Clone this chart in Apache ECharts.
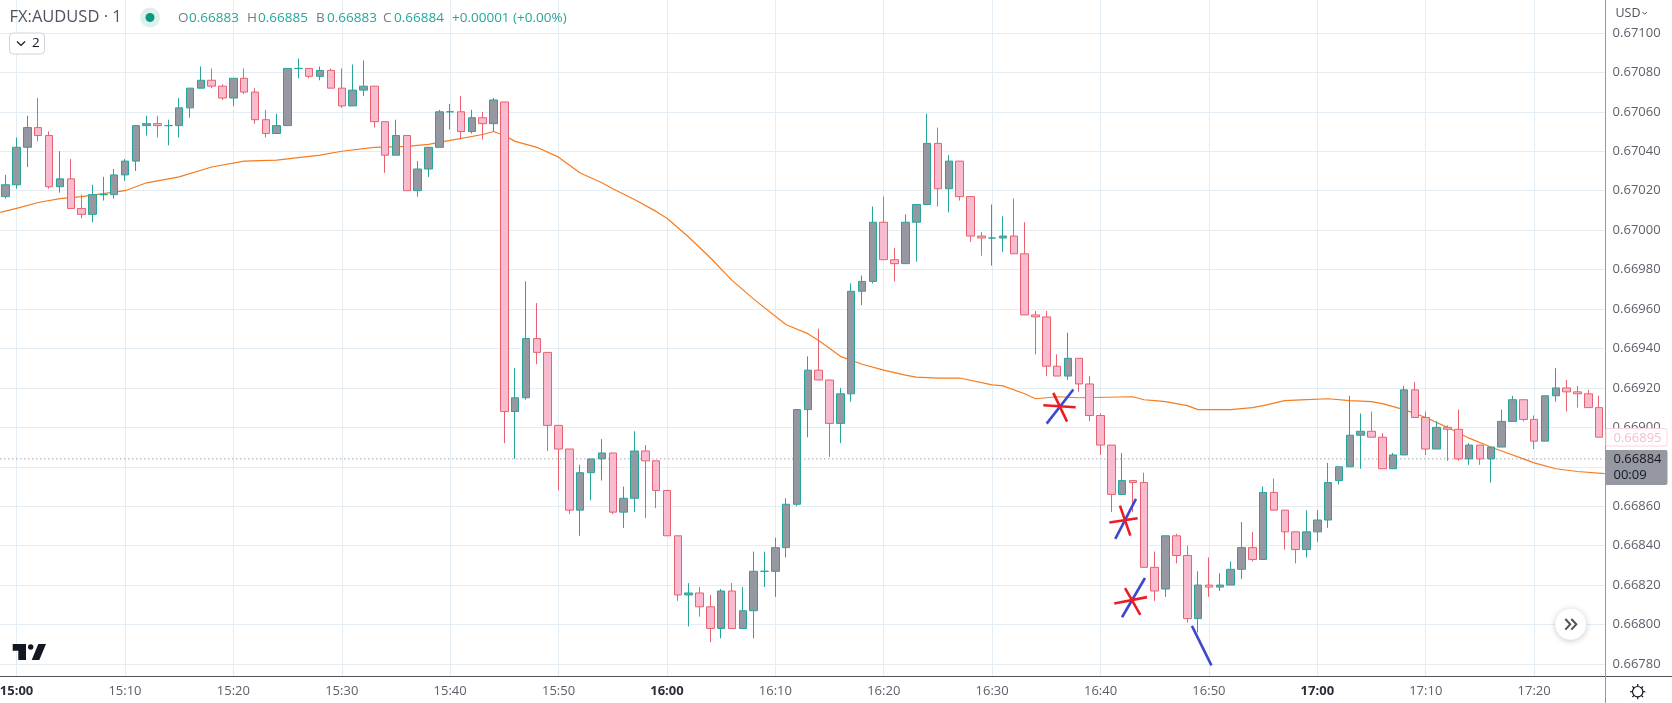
<!DOCTYPE html>
<html><head><meta charset="utf-8">
<style>html,body{margin:0;padding:0;background:#fff}#c{width:1672px;height:703px}</style>
<script src="https://cdn.jsdelivr.net/npm/echarts@6/dist/echarts.min.js"></script>
</head><body><div id="c"></div>
<script>
const categories = [
'14:59','15:00','15:01','15:02','15:03','15:04','15:05','15:06','15:07','15:08','15:09',
'15:10','15:11','15:12','15:13','15:14','15:15','15:16','15:17','15:18','15:19',
'15:20','15:21','15:22','15:23','15:24','15:25','15:26','15:27','15:28','15:29',
'15:30','15:31','15:32','15:33','15:34','15:35','15:36','15:37','15:38','15:39',
'15:40','15:41','15:42','15:43','15:44','15:45','15:46','15:47','15:48','15:49',
'15:50','15:51','15:52','15:53','15:54','15:55','15:56','15:57','15:58','15:59',
'16:00','16:01','16:02','16:03','16:04','16:05','16:06','16:07','16:08','16:09',
'16:10','16:11','16:12','16:13','16:14','16:15','16:16','16:17','16:18','16:19',
'16:20','16:21','16:22','16:23','16:24','16:25','16:26','16:27','16:28','16:29',
'16:30','16:31','16:32','16:33','16:34','16:35','16:36','16:37','16:38','16:39',
'16:40','16:41','16:42','16:43','16:44','16:45','16:46','16:47','16:48','16:49',
'16:50','16:51','16:52','16:53','16:54','16:55','16:56','16:57','16:58','16:59',
'17:00','17:01','17:02','17:03','17:04','17:05','17:06','17:07','17:08','17:09',
'17:10','17:11','17:12','17:13','17:14','17:15','17:16','17:17','17:18','17:19',
'17:20','17:21','17:22','17:23','17:24','17:25','17:26'];

const opens = [
0.67017,0.67023,0.67042,0.67052,0.67048,0.67022,0.67026,0.67011,0.67008,0.67018,
0.67018,0.67028,0.67035,0.67053,0.67054,0.67053,0.67053,0.67062,0.67072,0.67076,
0.67073,0.67067,0.67077,0.67070,0.67056,0.67049,0.67053,0.67082,0.67082,0.67078,
0.67081,0.67072,0.67063,0.67071,0.67073,0.67055,0.67038,0.67048,0.67020,0.67031,
0.67042,0.67060,0.67060,0.67050,0.67057,0.67054,0.67065,0.66908,0.66915,0.66945,
0.66938,0.66901,0.66889,0.66858,0.66877,0.66884,0.66887,0.66857,0.66864,0.66888,
0.66883,0.66868,0.66845,0.66815,0.66816,0.66809,0.66798,0.66817,0.66798,0.66807,
0.66827,0.66827,0.66839,0.66861,0.66909,0.66929,0.66924,0.66902,0.66917,0.66969,
0.66974,0.67004,0.66985,0.66983,0.67004,0.67013,0.67044,0.67021,0.67035,0.67017,
0.66997,0.66996,0.66996,0.66997,0.66988,0.66957,0.66956,0.66931,0.66926,0.66935,
0.66922,0.66906,0.66891,0.66866,0.66873,0.66872,0.66829,0.66818,0.66845,0.66835,
0.66803,0.66820,0.66819,0.66820,0.66828,0.66839,0.66833,0.66867,0.66858,0.66847,
0.66838,0.66847,0.66853,0.66873,0.66880,0.66896,0.66898,0.66895,0.66879,0.66886,
0.66919,0.66905,0.66889,0.66900,0.66899,0.66884,0.66891,0.66884,0.66890,0.66903,
0.66914,0.66904,0.66893,0.66916,0.66920,0.66918,0.66917,0.66910];

const closes = [
0.67023,0.67042,0.67052,0.67048,0.67022,0.67026,0.67011,0.67008,0.67018,0.67018,
0.67028,0.67035,0.67053,0.67054,0.67053,0.67053,0.67062,0.67072,0.67076,0.67073,
0.67067,0.67077,0.67070,0.67056,0.67049,0.67053,0.67082,0.67082,0.67078,0.67081,
0.67072,0.67063,0.67071,0.67073,0.67055,0.67038,0.67048,0.67020,0.67031,0.67042,
0.67060,0.67060,0.67050,0.67057,0.67054,0.67066,0.66908,0.66915,0.66945,0.66938,
0.66901,0.66889,0.66858,0.66877,0.66884,0.66887,0.66857,0.66864,0.66888,0.66883,
0.66868,0.66845,0.66815,0.66816,0.66809,0.66798,0.66817,0.66798,0.66807,0.66827,
0.66827,0.66839,0.66861,0.66909,0.66929,0.66924,0.66902,0.66917,0.66969,0.66974,
0.67004,0.66985,0.66983,0.67004,0.67013,0.67044,0.67021,0.67035,0.67017,0.66997,
0.66996,0.66996,0.66997,0.66988,0.66957,0.66956,0.66931,0.66926,0.66935,0.66922,
0.66906,0.66891,0.66866,0.66873,0.66872,0.66829,0.66817,0.66845,0.66835,0.66803,
0.66820,0.66819,0.66820,0.66828,0.66839,0.66833,0.66867,0.66858,0.66847,0.66838,
0.66847,0.66853,0.66872,0.66880,0.66896,0.66898,0.66895,0.66879,0.66886,0.66919,
0.66905,0.66889,0.66900,0.66899,0.66884,0.66891,0.66884,0.66890,0.66903,0.66914,
0.66904,0.66893,0.66916,0.66920,0.66918,0.66917,0.66910,0.66895];

const highs = [
0.67028,0.67047,0.67058,0.67067,0.67050,0.67040,0.67036,0.67018,0.67023,0.67027,
0.67031,0.67036,0.67053,0.67058,0.67058,0.67056,0.67067,0.67072,0.67083,0.67082,
0.67074,0.67077,0.67082,0.67072,0.67061,0.67059,0.67082,0.67087,0.67082,0.67083,
0.67082,0.67082,0.67084,0.67086,0.67073,0.67055,0.67056,0.67048,0.67035,0.67042,
0.67061,0.67064,0.67068,0.67061,0.67060,0.67067,0.67065,0.66930,0.66974,0.66963,
0.66938,0.66901,0.66889,0.66881,0.66884,0.66894,0.66887,0.66870,0.66898,0.66891,
0.66883,0.66868,0.66845,0.66821,0.66819,0.66815,0.66818,0.66821,0.66819,0.66837,
0.66837,0.66844,0.66864,0.66909,0.66936,0.66950,0.66924,0.66920,0.66973,0.66977,
0.67012,0.67017,0.66991,0.67008,0.67013,0.67059,0.67052,0.67038,0.67035,0.67017,
0.66999,0.67013,0.67007,0.67016,0.67004,0.66959,0.66959,0.66937,0.66948,0.66935,
0.66926,0.66907,0.66891,0.66887,0.66873,0.66877,0.66837,0.66845,0.66846,0.66840,
0.66827,0.66834,0.66826,0.66832,0.66852,0.66847,0.66870,0.66874,0.66858,0.66847,
0.66858,0.66858,0.66882,0.66880,0.66916,0.66907,0.66908,0.66897,0.66887,0.66921,
0.66923,0.66908,0.66903,0.66901,0.66909,0.66892,0.66891,0.66890,0.66909,0.66916,
0.66914,0.66906,0.66916,0.66930,0.66924,0.66921,0.66919,0.66916];

const lows = [
0.67016,0.67021,0.67032,0.67045,0.67021,0.67019,0.67011,0.67006,0.67004,0.67015,
0.67016,0.67025,0.67030,0.67048,0.67047,0.67043,0.67047,0.67057,0.67072,0.67072,
0.67066,0.67063,0.67069,0.67054,0.67047,0.67049,0.67053,0.67077,0.67077,0.67076,
0.67072,0.67062,0.67063,0.67068,0.67052,0.67029,0.67038,0.67020,0.67017,0.67027,
0.67042,0.67051,0.67046,0.67049,0.67046,0.67050,0.66892,0.66884,0.66914,0.66932,
0.66888,0.66868,0.66856,0.66845,0.66863,0.66873,0.66856,0.66849,0.66857,0.66854,
0.66859,0.66845,0.66812,0.66799,0.66804,0.66791,0.66793,0.66798,0.66798,0.66793,
0.66819,0.66814,0.66834,0.66860,0.66895,0.66924,0.66885,0.66892,0.66913,0.66962,
0.66973,0.66985,0.66974,0.66983,0.66984,0.67013,0.67012,0.67009,0.67015,0.66994,
0.66987,0.66982,0.66989,0.66988,0.66957,0.66937,0.66926,0.66926,0.66924,0.66918,
0.66903,0.66886,0.66857,0.66866,0.66857,0.66829,0.66812,0.66814,0.66831,0.66801,
0.66796,0.66814,0.66817,0.66820,0.66823,0.66832,0.66833,0.66858,0.66838,0.66831,
0.66834,0.66842,0.66849,0.66871,0.66880,0.66879,0.66895,0.66879,0.66879,0.66886,
0.66905,0.66886,0.66889,0.66883,0.66883,0.66881,0.66881,0.66872,0.66890,0.66903,
0.66903,0.66889,0.66893,0.66913,0.66908,0.66910,0.66910,0.66895];

// moving-average line, read at its visible vertices: [bar position, price]
const maPoints = [
[-0.5,0.67009],[1,0.67011],[3,0.67014],[5,0.67016],[7,0.67017],[9,0.670185],[11,0.67020],[13,0.67024],
[16,0.67027],[19,0.67032],[22,0.67035],[25,0.670355],[29,0.67038],[31,0.67040],[34,0.67042],[37,0.670425],
[39,0.670435],[41,0.670455],[44,0.670485],[45,0.67050],[46,0.67048],[47,0.67045],[49,0.67042],[51,0.67037],
[53,0.67029],[55,0.67024],[56,0.67021],[58,0.670155],[60,0.670095],[61,0.67006],[63,0.669965],[65,0.66986],
[67,0.669745],[69,0.66965],[72,0.66952],[74,0.669475],[75,0.66944],[77,0.66936],[79,0.66932],[81,0.66929],
[83,0.669265],[84,0.669255],[86,0.66925],[87,0.66925],[88,0.66925],[91,0.669215],[92,0.66921],[94,0.66917],
[95,0.669145],[97,0.669155],[99,0.66915],[104,0.669155],[105,0.66914],[106,0.669135],[107,0.66913],[109,0.66911],
[110,0.66909],[112,0.66909],[113,0.66909],[115,0.66910],[116,0.66911],[118,0.669135],[120,0.66914],[122,0.669145],
[124,0.669135],[126,0.66913],[127,0.66912],[129,0.66909],[131,0.66905],[133,0.66900],[135,0.668945],[137,0.66890],
[138,0.66888],[140,0.66884],[141,0.66882],[143,0.66879],[145,0.668776],[147.5,0.668765]];

// hand-drawn annotations: [bar, price, bar, price]
const blueStrokes = [
[96.03,0.669019,98.49,0.669192],
[102.36,0.668434,104.27,0.668637],
[102.98,0.668037,105.10,0.668236],
[109.43,0.667993,111.23,0.667793]];
const redStrokes = [
[95.72,0.669112,98.70,0.669102],[96.64,0.669175,97.91,0.669029],
[101.81,0.668517,104.42,0.668539],[102.79,0.668603,103.75,0.668451],
[102.27,0.668107,105.29,0.668139],[103.26,0.668185,104.67,0.668049]];

const lastPrice = 0.66884;
const yTicks = [0.671,0.6708,0.6706,0.6704,0.6702,0.67,0.6698,0.6696,0.6694,0.6692,0.669,0.6688,0.6686,0.6684,0.6682,0.668,0.6678];
const ohlcLabels = [['O','0.66883',178],['H','0.66885',247],['B','0.66883',316],['C','0.66884',383]];

const FONT = '"Open Sans", Roboto, sans-serif';
const GRIDC = '#e4edf3';
const TEAL = '#26a69a', RED = '#e8636f';

const chart = echarts.init(document.getElementById('c'), null, {renderer:'canvas'});
const candleData = categories.map((_, i) => [opens[i], closes[i], lows[i], highs[i]]);
const strokeSeries = (list, color) => list.map(s => ({
  type:'line', xAxisIndex:1, yAxisIndex:0, data:[[s[0],s[1]],[s[2],s[3]]],
  symbol:'none', z:6, silent:true, lineStyle:{color, width:2.6}
}));

const logo = [
 {type:'polygon', shape:{points:[[12.7,644],[26,644],[26,660],[18.3,660],[18.3,650.7],[12.7,650.7]]}, style:{fill:'#131722'}},
 {type:'circle', shape:{cx:30.7,cy:647,r:2.7}, style:{fill:'#131722'}},
 {type:'polygon', shape:{points:[[38.3,644],[46,644],[39.3,660],[31.7,660]]}, style:{fill:'#131722'}}
];
const gearLines = [0,45,90,135].map(a => {
  const r = a*Math.PI/180, c = Math.cos(r)*7.6, s = Math.sin(r)*7.6;
  return {type:'line', shape:{x1:1637.7-c,y1:691.7-s,x2:1637.7+c,y2:691.7+s}, style:{stroke:'#131722',lineWidth:1.2}};
});

const graphicEls = [
 {type:'line', shape:{x1:0,y1:676.5,x2:1672,y2:676.5}, style:{stroke:'#50535e',lineWidth:1}},
 {type:'line', shape:{x1:1605.5,y1:0,x2:1605.5,y2:703}, style:{stroke:'#9598a1',lineWidth:1}},
 {type:'text', style:{x:9.5,y:17,text:'FX:AUDUSD · 1',font:'16.5px '+FONT,fill:'#50535e',textVerticalAlign:'middle'}},
 {type:'circle', shape:{cx:150,cy:17.5,r:10}, style:{fill:'#dcf1ed'}},
 {type:'circle', shape:{cx:150,cy:17.5,r:4.5}, style:{fill:'#089981'}},
 ...ohlcLabels.flatMap(([k,v,x]) => [
   {type:'text', style:{x,y:18,text:k,font:'13.5px '+FONT,fill:'#787b86',textVerticalAlign:'middle'}},
   {type:'text', style:{x:x+11,y:18,text:v,font:'13.5px '+FONT,fill:TEAL,textVerticalAlign:'middle'}}
 ]),
 {type:'text', style:{x:452,y:18,text:'+0.00001 (+0.00%)',font:'13.5px '+FONT,fill:TEAL,textVerticalAlign:'middle'}},
 {type:'rect', shape:{x:9.5,y:33,width:35,height:21,r:4}, style:{fill:'#fff',stroke:'#d1d4dc',lineWidth:1}},
 {type:'polyline', shape:{points:[[17,41.5],[21,45.5],[25,41.5]]}, style:{fill:'none',stroke:'#131722',lineWidth:1.2}},
 {type:'text', style:{x:32,y:43.5,text:'2',font:'13.5px '+FONT,fill:'#131722',textVerticalAlign:'middle'}},
 {type:'text', style:{x:1615.5,y:13,text:'USD',font:'12.5px '+FONT,fill:'#50535e',textVerticalAlign:'middle'}},
 {type:'polyline', shape:{points:[[1642.5,12],[1644.7,14.2],[1647,12]]}, style:{fill:'none',stroke:'#50535e',lineWidth:1}},
 {type:'rect', shape:{x:1606,y:428.5,width:61,height:17.5,r:[0,2,2,0]}, style:{fill:'#fff',stroke:'#fbd3e0',lineWidth:1}},
 {type:'text', style:{x:1613.5,y:438,text:'0.66895',font:'13px '+FONT,fill:'#f8bbd0',textVerticalAlign:'middle'}},
 {type:'rect', shape:{x:1606,y:450,width:61.5,height:35,r:[0,2,2,0]}, style:{fill:'#9598a1'}},
 {type:'text', style:{x:1613.5,y:459.5,text:'0.66884',font:'13px '+FONT,fill:'#131722',textVerticalAlign:'middle'}},
 {type:'text', style:{x:1613.5,y:475.5,text:'00:09',font:'13px '+FONT,fill:'#131722',textVerticalAlign:'middle'}},
 {type:'circle', shape:{cx:1570.7,cy:624.3,r:15.5}, style:{fill:'#fff',shadowBlur:6,shadowColor:'rgba(0,0,0,0.22)',shadowOffsetY:1}},
 {type:'polyline', shape:{points:[[1565.3,619],[1570.3,624.3],[1565.3,629.6]]}, style:{fill:'none',stroke:'#50535e',lineWidth:2}},
 {type:'polyline', shape:{points:[[1571.3,619],[1576.3,624.3],[1571.3,629.6]]}, style:{fill:'none',stroke:'#50535e',lineWidth:2}},
 ...logo,
 ...gearLines,
 {type:'circle', shape:{cx:1637.7,cy:691.7,r:5.2}, style:{fill:'#fff',stroke:'#131722',lineWidth:1.2}}
].map(e => Object.assign(e,{z:200,silent:true}));

chart.setOption({
  animation:false,
  backgroundColor:'#ffffff',
  textStyle:{fontFamily:FONT},
  tooltip:{show:false},
  grid:{left:0.3, top:0, width:1604.3, height:676, containLabel:false, outerBoundsMode:'none'},
  xAxis:[{
    type:'category', data:categories, boundaryGap:true,
    axisLine:{show:false}, axisTick:{show:false},
    splitLine:{show:true, alignWithLabel:true, interval:(i,v)=>v.endsWith('0'), lineStyle:{color:GRIDC,width:1}},
    axisLabel:{
      show:true, interval:(i,v)=>v.endsWith('0'), margin:9, hideOverlap:false,
      fontFamily:FONT, fontSize:13, color:'#5d606b',
      formatter:v=>v.endsWith(':00')?'{b|'+v+'}':v,
      rich:{b:{fontFamily:FONT,fontSize:13,fontWeight:'bold',color:'#2a2e39'}}
    }
  },{
    type:'value', min:-0.5, max:147.5, show:false
  }],
  yAxis:{
    type:'value', position:'right', min:0.667739, max:0.671167,
    axisLine:{show:false},
    axisTick:{show:false, customValues:yTicks},
    splitLine:{show:true, customValues:yTicks, lineStyle:{color:GRIDC,width:1}},
    axisLabel:{margin:8, customValues:yTicks, fontFamily:FONT, fontSize:13, color:'#5d606b',
      formatter:v=>Number(v).toFixed(5)}
  },
  graphic:{elements:graphicEls},
  series:[
   {type:'line', name:'MA', xAxisIndex:1, yAxisIndex:0, data:maPoints, symbol:'none', z:2, silent:true,
    lineStyle:{color:'#f57c1f',width:1.2}},
   {type:'line', name:'Last', xAxisIndex:1, yAxisIndex:0, data:[[-0.5,lastPrice],[147.5,lastPrice]], symbol:'none', z:2, silent:true,
    lineStyle:{color:'#787b86',type:[1,3],width:1}},
   {type:'candlestick', name:'AUDUSD', xAxisIndex:0, yAxisIndex:0, data:candleData, barWidth:8, z:3, silent:true,
    itemStyle:{color:'#9598a1',color0:'#f8bbd0',borderColor:TEAL,borderColor0:RED,borderColorDoji:TEAL,borderWidth:1}},
   ...strokeSeries(blueStrokes,'#3f48cc'),
   ...strokeSeries(redStrokes,'#ed1c24')
  ]
});
</script></body></html>
